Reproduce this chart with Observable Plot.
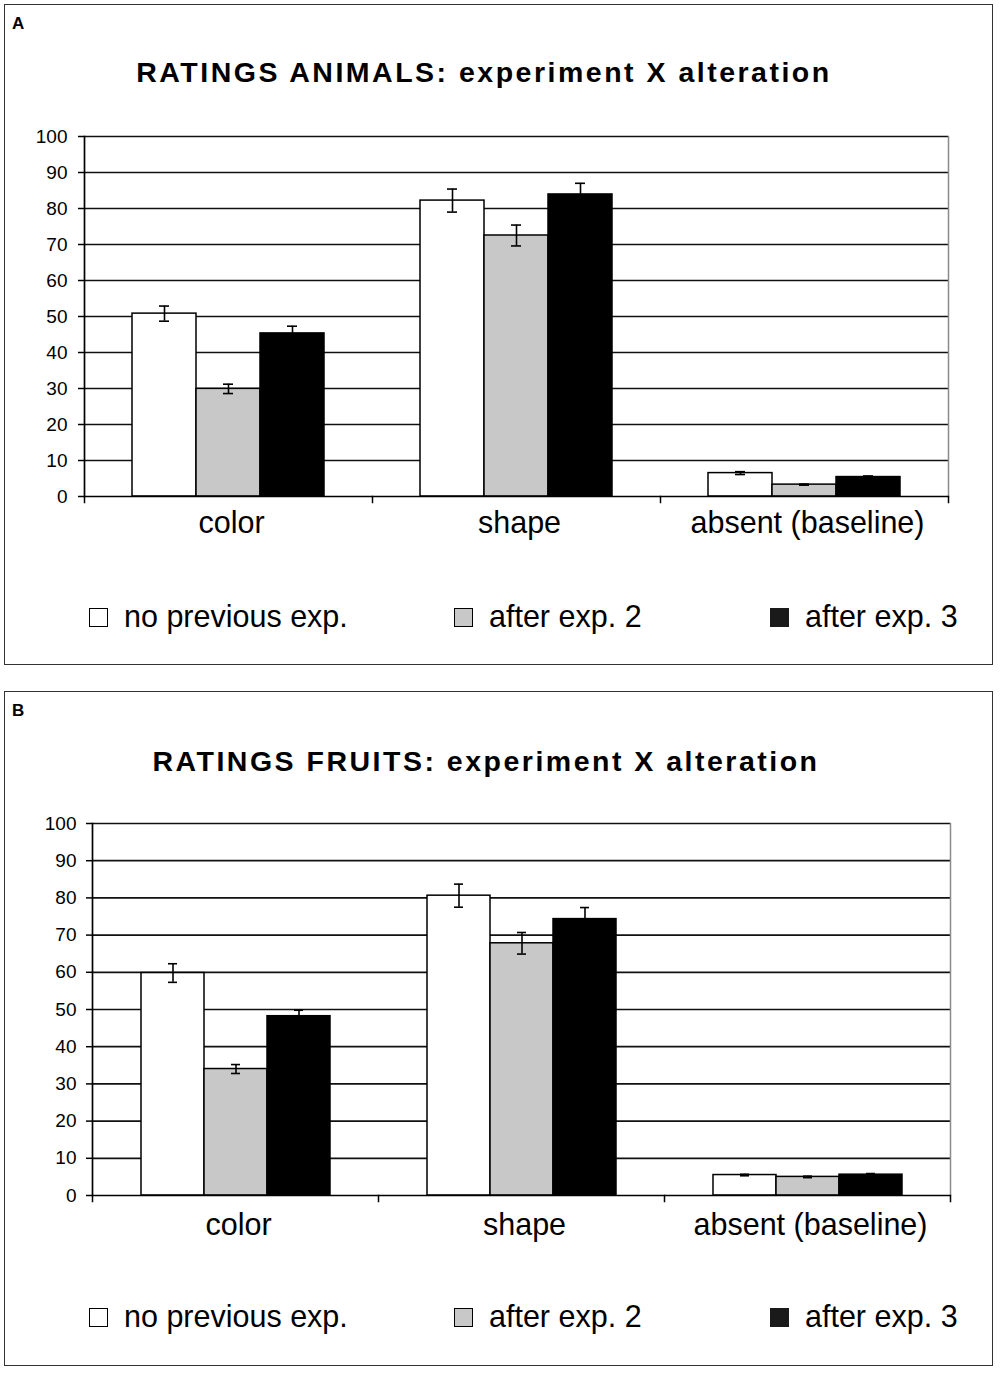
<!DOCTYPE html>
<html>
<head>
<meta charset="utf-8">
<script src="https://cdn.jsdelivr.net/npm/d3@7"></script>
<script src="https://cdn.jsdelivr.net/npm/@observablehq/plot@0.6"></script>
<style>
  html, body { margin: 0; padding: 0; background: #fff; }
  body { width: 1000px; height: 1375px; position: relative; font-family: "Liberation Sans", Arial, sans-serif; color: #000; }
  .panel { position: absolute; left: 4px; width: 989px; border: 1px solid #333; box-sizing: border-box; }
  .tag { position: absolute; font-weight: bold; font-size: 17px; }
  .title { position: absolute; left: 0; width: 968px; text-align: center; font-weight: bold; font-size: 28.5px; letter-spacing: 2.5px; line-height: 1; }
  .chart { position: absolute; left: 0; }
  .legend { position: absolute; font-size: 30.5px; line-height: 1; }
  .legend .item { position: absolute; white-space: nowrap; }
  .legend .sw { position: absolute; width: 19px; height: 19px; border: 1.5px solid #000; box-sizing: border-box; }
  .legend .lab { position: absolute; top: -16px; }
</style>
</head>
<body>
<div class="panel" style="top:4px;height:661px;"></div>
<div class="panel" style="top:691px;height:675px;"></div>
<div class="tag" style="left:12px;top:14px;">A</div>
<div class="tag" style="left:12px;top:701px;">B</div>
<div class="title" style="top:58px;">RATINGS ANIMALS: experiment X alteration</div>
<div class="title" style="top:747px;left:2px;">RATINGS FRUITS: experiment X alteration</div>
<div id="chartA" class="chart" style="top:120px;"></div>
<div id="chartB" class="chart" style="top:807px;"></div>
<div id="legendA" class="legend" style="top:617px;left:0;"></div>
<div id="legendB" class="legend" style="top:1317px;left:0;"></div>
<script>
// ---- data ----
const categories = ["color", "shape", "absent (baseline)"];
const series = ["no previous exp.", "after exp. 2", "after exp. 3"];
const seriesColors = ["#ffffff", "#c8c8c8", "#000000"];
const yTicks = [0, 10, 20, 30, 40, 50, 60, 70, 80, 90, 100];

// Panel A: animals
const animalsNoPrev = [50.8, 82.2, 6.5];
const animalsExp2   = [29.9, 72.5, 3.3];
const animalsExp3   = [45.3, 83.9, 5.4];
const animalsErrNoPrev = [2.1, 3.2, 0.4];
const animalsErrExp2   = [1.3, 2.9, 0.15];
const animalsErrExp3   = [2.0, 3.1, 0.3];

// Panel B: fruits
const fruitsNoPrev = [59.8, 80.6, 5.5];
const fruitsExp2   = [34.0, 67.8, 5.0];
const fruitsExp3   = [48.2, 74.3, 5.6];
const fruitsErrNoPrev = [2.5, 3.1, 0.2];
const fruitsErrExp2   = [1.2, 2.9, 0.2];
const fruitsErrExp3   = [1.6, 3.1, 0.3];

function buildRows(valueArrays, errArrays) {
  const rows = [];
  categories.forEach((c, ci) => {
    series.forEach((s, si) => {
      rows.push({category: c, series: s, value: valueArrays[si][ci], err: errArrays[si][ci]});
    });
  });
  return rows;
}

function chart(rows, {marginLeft, marginRight, plotH, tickPadding, fxPadding}) {
  const marginTop = 16, marginBottom = 56;
  return Plot.plot({
    width: 1000,
    height: marginTop + plotH + marginBottom,
    marginLeft, marginRight, marginTop, marginBottom,
    style: {fontFamily: "'Liberation Sans', Arial, sans-serif", fontSize: "19px", color: "#000", background: "transparent", overflow: "visible"},
    fx: {domain: categories, padding: 0, label: null},
    x: {domain: series, paddingInner: 0, paddingOuter: 0.75, axis: null},
    y: {domain: [0, 100], label: null},
    color: {domain: series, range: seriesColors},
    marks: [
      Plot.ruleY(yTicks.filter(d => d > 0), {stroke: "#111", strokeWidth: 1.7}),
      Plot.frame({anchor: "right", facetAnchor: "right", stroke: "#8a8a8a", strokeWidth: 1.5}),
      Plot.barY(rows, {fx: "category", x: "series", y: "value", fill: "series", stroke: "#000", strokeWidth: 1.5}),
      Plot.ruleX(rows, {fx: "category", x: "series", y1: d => d.value - d.err, y2: d => d.value + d.err, stroke: "#000", strokeWidth: 1.6}),
      Plot.tickY(rows, {fx: "category", x: "series", y: d => d.value + d.err, insetLeft: 27, insetRight: 27, stroke: "#000", strokeWidth: 1.6}),
      Plot.tickY(rows, {fx: "category", x: "series", y: d => d.value - d.err, insetLeft: 27, insetRight: 27, stroke: "#000", strokeWidth: 1.6}),
      Plot.ruleY([0], {stroke: "#000", strokeWidth: 1.7}),
      Plot.frame({anchor: "left", facetAnchor: "left", stroke: "#000", strokeWidth: 1.7}),
      Plot.frame({anchor: "left", insetTop: plotH, insetBottom: -6, stroke: "#000", strokeWidth: 1.5}),
      Plot.frame({anchor: "right", facetAnchor: "right", insetTop: plotH, insetBottom: -6, stroke: "#000", strokeWidth: 1.5}),
      Plot.axisY({ticks: yTicks, tickSize: 6, tickPadding, fontSize: 19, label: null, strokeWidth: 1.5}),
      Plot.axisFx({anchor: "bottom", tickSize: 0, tickPadding: fxPadding, fontSize: 30.5, label: null, dx: 3})
    ]
  });
}

document.getElementById("chartA").appendChild(
  chart(buildRows([animalsNoPrev, animalsExp2, animalsExp3], [animalsErrNoPrev, animalsErrExp2, animalsErrExp3]),
        {marginLeft: 83, marginRight: 52, plotH: 360, tickPadding: 11, fxPadding: 15}));
document.getElementById("chartB").appendChild(
  chart(buildRows([fruitsNoPrev, fruitsExp2, fruitsExp3], [fruitsErrNoPrev, fruitsErrExp2, fruitsErrExp3]),
        {marginLeft: 91, marginRight: 50, plotH: 372, tickPadding: 10, fxPadding: 18}));

// legends
const legendX = [89, 454, 770];
function legend(el) {
  series.forEach((s, i) => {
    const item = document.createElement("div");
    item.className = "item";
    item.style.left = legendX[i] + "px";
    const sw = document.createElement("div");
    sw.className = "sw";
    sw.style.left = "0px";
    sw.style.top = "-9px";
    sw.style.background = seriesColors[i];
    if (i === 2) { sw.style.background = "#1a1a1a"; sw.style.borderColor = "#1a1a1a"; }
    const lab = document.createElement("div");
    lab.className = "lab";
    lab.style.left = "35px";
    lab.textContent = s;
    item.appendChild(sw);
    item.appendChild(lab);
    el.appendChild(item);
  });
}
legend(document.getElementById("legendA"));
legend(document.getElementById("legendB"));
</script>
</body>
</html>
